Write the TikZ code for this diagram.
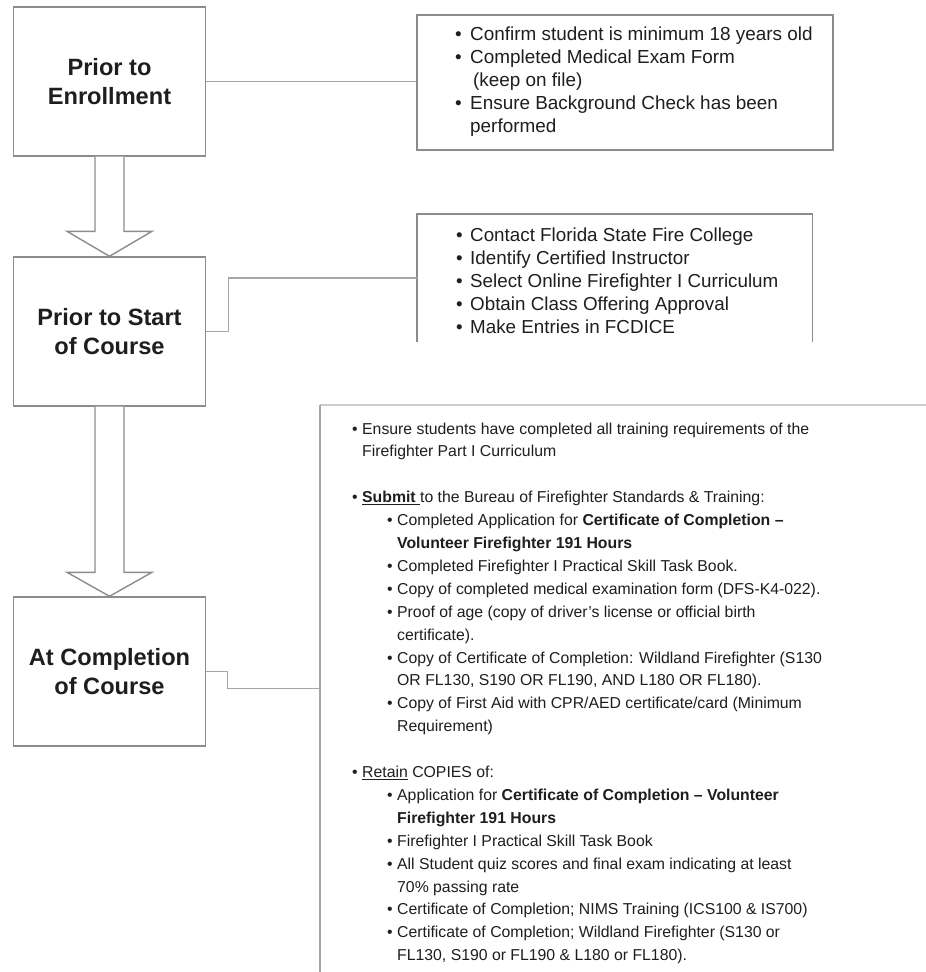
\documentclass[tikz,border=0pt]{standalone}
\usepackage{fontspec}
\setmainfont{Liberation Sans}
\usetikzlibrary{calc}
\definecolor{boxgray}{HTML}{8C8C8C}
\definecolor{linegray}{HTML}{A6A6A6}
\definecolor{topgray}{HTML}{CDCDCD}
\definecolor{txt}{HTML}{1E1E1E}
\newcommand{\mybul}[1][15pt]{\makebox[#1][l]{•}}
\begin{document}
\begin{tikzpicture}[x=1pt,y=1pt,
  stage/.style={draw=boxgray, line width=1.4pt, fill=white, minimum width=192pt,
    minimum height=149pt, inner sep=0pt, align=center,
    font=\fontsize{23.6}{29}\selectfont\bfseries, text=txt},
  listbox/.style={draw=boxgray, line width=1.4pt, inner sep=0pt},
  openbox/.style={inner sep=0pt},
  listtext/.style={anchor=base west, inner sep=0pt, text=txt},
  conn/.style={draw=linegray, line width=1.2pt},
  blockarrow/.style={draw=boxgray, line width=1.4pt, fill=white, line join=miter}]

\fill[white] (0,0) rectangle (926,-972);
\useasboundingbox (0,0) rectangle (926,-972);

% stage boxes
\node[stage] (b1) at (109.5,-81.5) {Prior to\\Enrollment};
\node[stage] (b2) at (109.5,-331.5) {Prior to Start\\of Course};
\node[stage] (b3) at (109.5,-671.5) {At Completion\\of Course};

% list frames
\node[listbox, minimum width=416pt, minimum height=135pt] (l1) at (625,-82.5) {};
\node[openbox, minimum width=395pt, minimum height=128pt] (l2) at (614.5,-278) {};
\node[openbox, minimum width=606pt, minimum height=567pt] (l3) at (623,-688.5) {};
\draw[draw=boxgray, line width=1.4pt] (l2.south west) -- (l2.north west) -- (l2.north east) -- (l2.south east);
\draw[draw=topgray, line width=2pt] (l3.north west) -- (l3.north east);
\draw[draw=linegray, line width=2pt] (l3.north west) -- (l3.south west);

% connectors
\draw[conn] (b1.east) -- (b1.east -| l1.west);
\draw[conn] (b2.east) -- ++(22,0) |- (l2.west);
\draw[conn] (b3.east) -- ++(21,0) |- (l3.west);

% block arrows
\draw[blockarrow] ($(b1.south)+(-14.5,0)$) -- ($(b2.north)+(-14.5,25)$) -- ($(b2.north)+(-42.5,25)$)
  -- (b2.north) -- ($(b2.north)+(42.5,25)$) -- ($(b2.north)+(14.5,25)$) -- ($(b1.south)+(14.5,0)$);
\draw[blockarrow] ($(b2.south)+(-14.5,0)$) -- ($(b3.north)+(-14.5,24)$) -- ($(b3.north)+(-42.5,24)$)
  -- (b3.north) -- ($(b3.north)+(42.5,24)$) -- ($(b3.north)+(14.5,24)$) -- ($(b2.south)+(14.5,0)$);

% list texts
\node[listtext] (t1) at (455,-40.7) {\begin{minipage}[t]{380pt}\fontsize{18.9}{22.9}\selectfont
\mybul Confirm student is minimum 18 years old\\
\mybul Completed Medical Exam Form\\
\hspace*{18pt}(keep on file)\\
\mybul Ensure Background Check has been\\
\hspace*{15pt}performed
\end{minipage}};

\node[listtext] (t2) at (456,-241) {\begin{minipage}[t]{380pt}\fontsize{18.8}{23}\selectfont
\mybul[14pt]Contact Florida State Fire College\\
\mybul[14pt]Identify Certified Instructor\\
\mybul[14pt]Select Online Firefighter I Curriculum\\
\mybul[14pt]Obtain Class Offering Approval\\
\mybul[14pt]Make Entries in FCDICE
\end{minipage}};

\node[listtext] (t3) at (352,-434) {\begin{minipage}[t]{570pt}\fontsize{15.8}{22.9}\selectfont
\mybul[10pt]Ensure students have completed all training requirements of the\\
\hspace*{10pt}Firefighter Part I Curriculum\\[22.9pt]
\mybul[10pt]\underline{\textbf{Submit }}to the Bureau of Firefighter Standards \& Training:\\
\hspace*{35pt}\mybul[10pt]Completed Application for \textbf{Certificate of Completion –}\\
\hspace*{45pt}\textbf{Volunteer Firefighter 191 Hours}\\
\hspace*{35pt}\mybul[10pt]Completed Firefighter I Practical Skill Task Book.\\
\hspace*{35pt}\mybul[10pt]Copy of completed medical examination form (DFS-K4-022).\\
\hspace*{35pt}\mybul[10pt]Proof of age (copy of driver’s license or official birth\\
\hspace*{45pt}certificate).\\
\hspace*{35pt}\mybul[10pt]Copy of Certificate of Completion: Wildland Firefighter (S130\\
\hspace*{45pt}OR FL130, S190 OR FL190, AND L180 OR FL180).\\
\hspace*{35pt}\mybul[10pt]Copy of First Aid with CPR/AED certificate/card (Minimum\\
\hspace*{45pt}Requirement)\\[22.9pt]
\mybul[10pt]\underline{Retain} COPIES of:\\
\hspace*{35pt}\mybul[10pt]Application for \textbf{Certificate of Completion – Volunteer}\\
\hspace*{45pt}\textbf{Firefighter 191 Hours}\\
\hspace*{35pt}\mybul[10pt]Firefighter I Practical Skill Task Book\\
\hspace*{35pt}\mybul[10pt]All Student quiz scores and final exam indicating at least\\
\hspace*{45pt}70\% passing rate\\
\hspace*{35pt}\mybul[10pt]Certificate of Completion; NIMS Training (ICS100 \& IS700)\\
\hspace*{35pt}\mybul[10pt]Certificate of Completion; Wildland Firefighter (S130 or\\
\hspace*{45pt}FL130, S190 or FL190 \& L180 or FL180).
\end{minipage}};
\end{tikzpicture}
\end{document}
